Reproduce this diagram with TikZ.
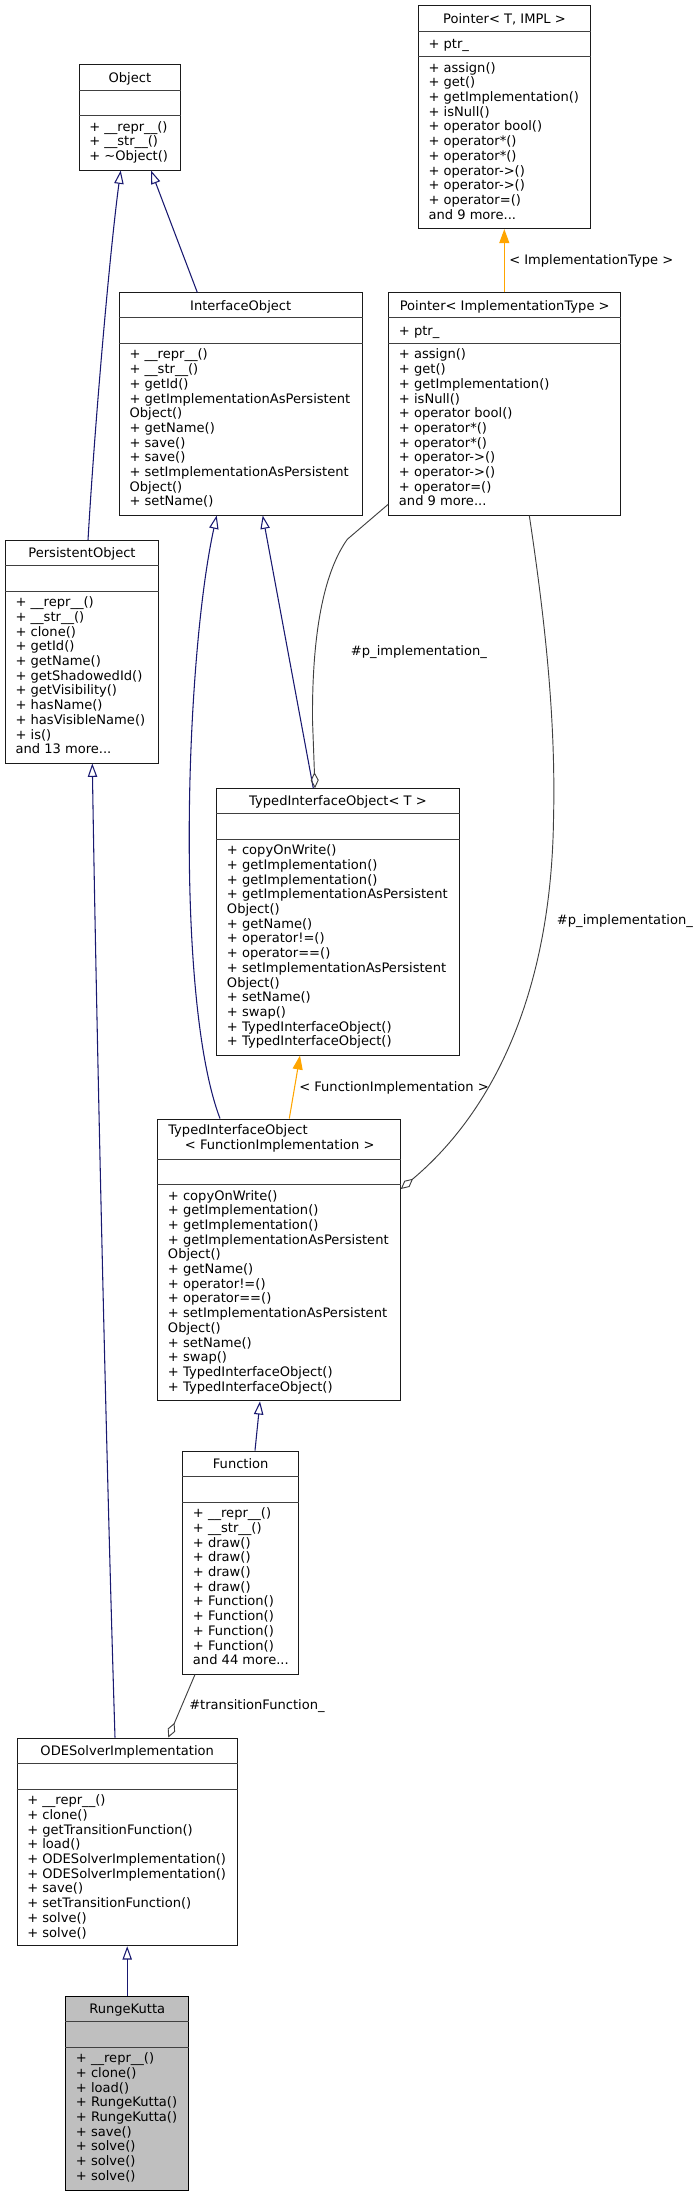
\documentclass[tikz,border=0pt]{standalone}
\usepackage{fontspec}
\setmainfont{DejaVu Sans}
\usepackage{tikz}
\usetikzlibrary{arrows.meta,fit}
\definecolor{boxline}{HTML}{1A1A1A}
\definecolor{sepgray}{HTML}{404040}
\definecolor{selfill}{HTML}{BFBFBF}
\definecolor{edgeblue}{HTML}{191970}
\definecolor{tmplorange}{HTML}{FFA500}
\definecolor{aggrgray}{HTML}{404040}
\newcommand\umlfont{\fontsize{9.8}{11}\selectfont}
\newcommand\more[1]{and #1 more.{}.{}.}
\tikzset{
  classbox/.style={draw=boxline, line width=0.75pt, fill=white, inner sep=0pt},
  sepline/.style={draw=sepgray, line width=0.75pt},
  ctitle/.style={font=\umlfont, anchor=base, inner sep=0pt},
  member/.style={font=\umlfont, anchor=base west, inner sep=0pt},
  lab/.style={font=\umlfont, anchor=base west, inner sep=0pt},
  inherit/.style={draw=edgeblue, line width=0.8pt, -{Triangle[open, length=10pt, width=7pt]}},
  tmpl/.style={draw=tmplorange, line width=0.8pt, -{Triangle[length=10.5pt, width=7.5pt]}},
  aggr/.style={draw=aggrgray, line width=0.7pt, -{Diamond[open, length=12pt, width=6pt]}},
}
\newcommand\members[4]{%
  \foreach \m [count=\i from 0] in {#4}
    \node[member] (#1-\i) at (#2,#3+14.7*\i) {\m};
}
\newcommand\seps[3]{%
  \draw[sepline] (#1.west |- 0,#2) -- (#1.east |- 0,#2)
                 (#1.west |- 0,#3) -- (#1.east |- 0,#3);
}
\begin{document}
\begin{tikzpicture}[x=0.75pt, y=-0.75pt]
\useasboundingbox (0,0) rectangle (699,2196);

\node[classbox, fit={(79,64.6) (180.7,170)}] (object) {};
\seps{object}{90}{115.4}
\node[ctitle] (object-t) at (129.9,82) {Object};
\members{object-m}{89}{131.1}{+ \_\_repr\_\_(), + \_\_str\_\_(), + \textasciitilde Object()}

\node[classbox, fit={(418.3,5.7) (590.7,228.6)}] (ptrti) {};
\seps{ptrti}{31.4}{56.4}
\node[ctitle] (ptrti-t) at (504.5,23.3) {Pointer< T, IMPL >};
\node[member] (ptrti-a) at (428.3,48.6) {+ ptr\_};
\members{ptrti-m}{428.3}{72.1}{+ assign(), + get(), + getImplementation(), + isNull(), + operator bool(), + operator*(), + operator*(), + operator->(), + operator->(), + operator=(), \more{9}}

\node[classbox, fit={(388.7,292.9) (620.7,515)}] (ptrit) {};
\seps{ptrit}{317.9}{343.2}
\node[ctitle] (ptrit-t) at (504.7,310.1) {Pointer< ImplementationType >};
\node[member] (ptrit-a) at (398.7,335.2) {+ ptr\_};
\members{ptrit-m}{398.7}{358.9}{+ assign(), + get(), + getImplementation(), + isNull(), + operator bool(), + operator*(), + operator*(), + operator->(), + operator->(), + operator=(), \more{9}}

\node[classbox, fit={(119.3,292.9) (362,515)}] (iface) {};
\seps{iface}{317.9}{343.2}
\node[ctitle] (iface-t) at (240.7,310.1) {InterfaceObject};
\members{iface-m}{129.3}{358.9}{+ \_\_repr\_\_(), + \_\_str\_\_(), + getId(), + getImplementationAsPersistent, Object(), + getName(), + save(), + save(), + setImplementationAsPersistent, Object(), + setName()}

\node[classbox, fit={(5.3,540.7) (158.7,763)}] (persist) {};
\seps{persist}{565.7}{591}
\node[ctitle] (persist-t) at (82,557.9) {PersistentObject};
\members{persist-m}{15.3}{606.7}{+ \_\_repr\_\_(), + \_\_str\_\_(), + clone(), + getId(), + getName(), + getShadowedId(), + getVisibility(), + hasName(), + hasVisibleName(), + is(), \more{13}}

\node[classbox, fit={(216.7,788.7) (459.3,1055)}] (tiot) {};
\seps{tiot}{813.7}{839}
\node[ctitle] (tiot-t) at (338,805.9) {TypedInterfaceObject< T >};
\members{tiot-m}{226.7}{854.7}{+ copyOnWrite(), + getImplementation(), + getImplementation(), + getImplementationAsPersistent, Object(), + getName(), + operator!=(), + operator==(), + setImplementationAsPersistent, Object(), + setName(), + swap(), + TypedInterfaceObject(), + TypedInterfaceObject()}

\node[classbox, fit={(157.7,1119) (400.3,1400.7)}] (tiofi) {};
\seps{tiofi}{1159.3}{1184.3}
\node[member] (tiofi-t1) at (168,1134.7) {TypedInterfaceObject};
\node[member] (tiofi-t2) at (184.7,1149.7) {< FunctionImplementation >};
\members{tiofi-m}{167.7}{1200}{+ copyOnWrite(), + getImplementation(), + getImplementation(), + getImplementationAsPersistent, Object(), + getName(), + operator!=(), + operator==(), + setImplementationAsPersistent, Object(), + setName(), + swap(), + TypedInterfaceObject(), + TypedInterfaceObject()}

\node[classbox, fit={(182.7,1451) (298.7,1674)}] (func) {};
\seps{func}{1476.7}{1502}
\node[ctitle] (func-t) at (240.7,1468.6) {Function};
\members{func-m}{192.7}{1517.7}{+ \_\_repr\_\_(), + \_\_str\_\_(), + draw(), + draw(), + draw(), + draw(), + Function(), + Function(), + Function(), + Function(), \more{44}}

\node[classbox, fit={(17,1738) (237.3,1945.7)}] (odesolver) {};
\seps{odesolver}{1763.3}{1789}
\node[ctitle] (odesolver-t) at (127.2,1755.4) {ODESolverImplementation};
\members{odesolver-m}{27}{1804.7}{+ \_\_repr\_\_(), + clone(), + getTransitionFunction(), + load(), + ODESolverImplementation(), + ODESolverImplementation(), + save(), + setTransitionFunction(), + solve(), + solve()}

\node[classbox, fill=selfill, draw=black, fit={(65.7,1996.7) (188.7,2190)}] (rk) {};
\seps{rk}{2021.7}{2047}
\node[ctitle] (rk-t) at (127.2,2013.9) {RungeKutta};
\members{rk-m}{75.7}{2062.7}{+ \_\_repr\_\_(), + clone(), + load(), + RungeKutta(), + RungeKutta(), + save(), + solve(), + solve(), + solve()}

\draw[inherit] (persist.north -| 88,0) .. controls (95,420) and (110,250) .. (object.south -| 120.7,0);
\draw[inherit] (iface.north -| 197.3,0) -- (object.south -| 151,0);
\draw[inherit] (odesolver.north -| 115,0) .. controls (106,1450) and (96,1000) .. (persist.south -| 92.3,0);
\draw[inherit] (tiofi.north -| 220,0) .. controls (175,1000) and (185,660) .. (iface.south -| 216.7,0);
\draw[inherit] (tiot.north -| 313.3,0) -- (iface.south -| 262.7,0);
\draw[inherit] (func.north -| 255,0) -- (tiofi.south -| 260,0);
\draw[inherit] (rk.north) -- (rk.north |- odesolver.south);

\draw[tmpl] (ptrit.north -| 504.3,0) -- (ptrti.south -| 504.3,0);
\node[lab] (lab-it) at (509,264.3) {< ImplementationType >};
\draw[tmpl] (tiofi.north -| 289.3,0) -- (tiot.south -| 300,0);
\node[lab] (lab-fi) at (299,1091.4) {< FunctionImplementation >};

\draw[aggr] (func.south -| 195,0) -- (odesolver.north -| 168.3,0);
\node[lab] (lab-tf) at (189,1709) {\#transitionFunction\_};
\draw[aggr] (ptrit.west |- 0,504.3) -- (347.3,539.3) .. controls (322,575) and (312,640) .. (312.5,720) -- (tiot.north -| 315,0);
\node[lab] (lab-pl) at (350.7,655.4) {\#p\_implementation\_};
\draw[aggr] (ptrit.south -| 529.3,0) .. controls (545,620) and (556,720) .. (553.5,820) .. controls (551,990) and (495,1110) .. (tiofi.east |- 0,1189);
\node[lab] (lab-pr) at (556.7,924.7) {\#p\_implementation\_};
\end{tikzpicture}
\end{document}
